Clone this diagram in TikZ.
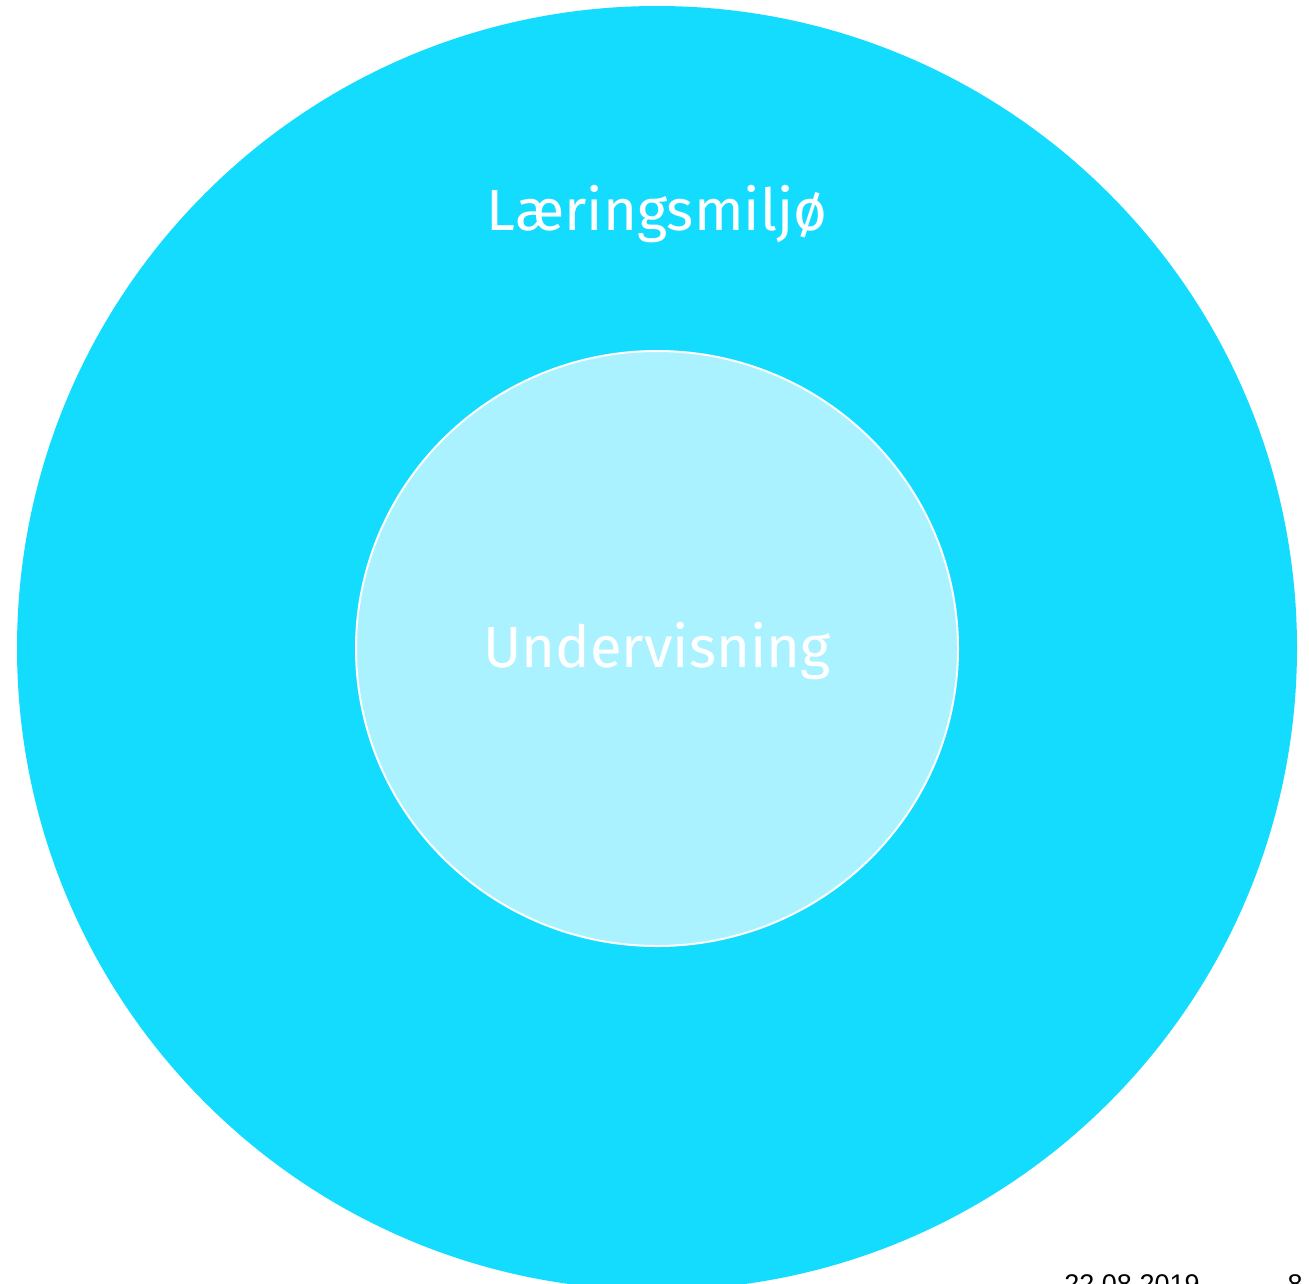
\documentclass[tikz,border=0pt]{standalone}
\usepackage{fontspec}
\setmainfont{Fira Sans}
\newfontfamily\footfont{Liberation Sans}
\definecolor{outerblue}{RGB}{20,220,255}
\definecolor{innerblue}{RGB}{170,242,255}
\tikzset{
  lbl/.style={text=white, font=\fontsize{58}{60}\selectfont, inner sep=0pt, anchor=base},
  foot/.style={text=black, font=\footfont\fontsize{27}{30}\selectfont, inner sep=0pt, anchor=base}
}
\begin{document}
\begin{tikzpicture}[x=1pt,y=-1pt]
\useasboundingbox (0,0) rectangle (1309,1283);
\begin{scope}
\clip (0,0) rectangle (1309,1283);
\fill[outerblue] (657,648) ellipse [x radius=640, y radius=642];
\draw[white, line width=2pt, fill=innerblue] (657,648.5) ellipse [x radius=301, y radius=297.5];
\node[lbl] (outer) at (657,230) {Læringsmiljø};
\node[lbl] (inner) at (657,667) {Undervisning};
\node[foot] (date) at (1132,1293) {22.08.2019};
\node[foot] (page) at (1295,1293) {8};
\end{scope}
\end{tikzpicture}
\end{document}
